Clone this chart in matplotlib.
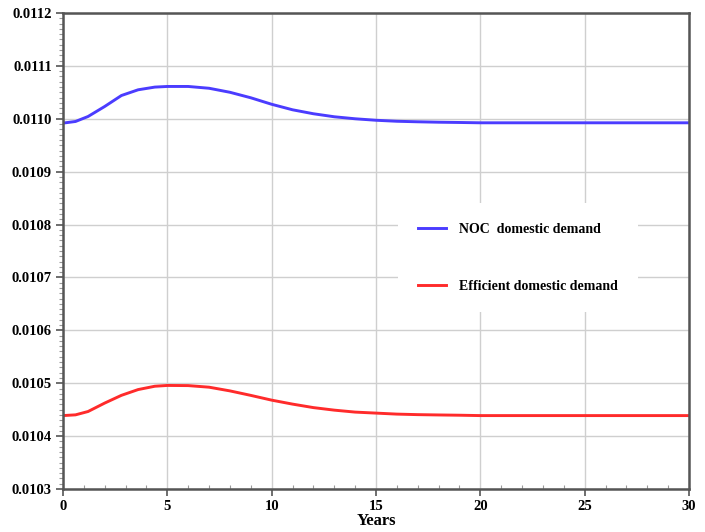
import matplotlib
matplotlib.use("Agg")
import matplotlib.pyplot as plt
from matplotlib.ticker import MultipleLocator, FormatStrFormatter

# values
years = [0, 0.6, 1.2, 2, 2.8, 3.6, 4.4, 5, 6, 7, 8, 9, 10, 11, 12, 13, 14,
         15, 16, 17, 18, 19, 20, 22, 25, 28, 30]
noc_demand = [0.0109918, 0.0109949, 0.0110043, 0.0110233, 0.0110440, 0.0110548,
              0.0110599, 0.0110611, 0.0110611, 0.0110577, 0.0110501, 0.0110397,
              0.0110274, 0.0110170, 0.0110095, 0.0110038, 0.0110000, 0.0109972,
              0.0109953, 0.0109943, 0.0109935, 0.0109930, 0.0109924, 0.0109924,
              0.0109924, 0.0109924, 0.0109924]
eff_demand = [0.0104388, 0.0104402, 0.0104465, 0.0104625, 0.0104771, 0.0104880,
              0.0104943, 0.0104958, 0.0104955, 0.0104925, 0.0104855, 0.0104770,
              0.0104680, 0.0104605, 0.0104539, 0.0104491, 0.0104454, 0.0104435,
              0.0104416, 0.0104406, 0.0104400, 0.0104395, 0.0104388, 0.0104388,
              0.0104388, 0.0104388, 0.0104388]

serif = ["Liberation Serif", "DejaVu Serif"]

fig = plt.figure(figsize=(7.05, 5.32), dpi=100)
ax = fig.add_axes([63 / 705, 1 - 489 / 532, 626 / 705, 476 / 532])

ax.plot(years, noc_demand, color="#4b3cff", lw=2.1, label="NOC  domestic demand")
ax.plot(years, eff_demand, color="#ff2b2b", lw=2.1, label="Efficient domestic demand")

ax.set_xlim(0, 30)
ax.set_ylim(0.0103, 0.0112)
ax.xaxis.set_major_locator(MultipleLocator(5))
ax.xaxis.set_minor_locator(MultipleLocator(1))
ax.yaxis.set_major_locator(MultipleLocator(0.0001))
ax.yaxis.set_minor_locator(MultipleLocator(0.00001))
ax.yaxis.set_major_formatter(FormatStrFormatter("%.4f"))

ax.grid(True, which="major", color="#cfcfcf", lw=1)
ax.set_axisbelow(True)
for s in ax.spines.values():
    s.set_color("#555555")
    s.set_linewidth(1.8)

ax.tick_params(axis="both", which="major", length=5, width=1.2, color="#555555",
               pad=3)
ax.tick_params(axis="y", which="minor", length=3, width=0.8, color="#999999")
ax.tick_params(axis="x", which="minor", direction="in", length=3, width=0.8,
               color="#999999")
for lab in ax.get_xticklabels() + ax.get_yticklabels():
    lab.set_fontfamily(serif)
    lab.set_fontweight("bold")
    lab.set_fontsize(10.5)

ax.set_xlabel("Years", fontfamily=serif, fontweight="bold", fontsize=12,
              labelpad=0)

leg = ax.legend(loc="center", bbox_to_anchor=(0.727, 0.486), frameon=True,
                facecolor="white", edgecolor="none", framealpha=1,
                labelspacing=3.15, handlelength=2.0, handletextpad=1.0,
                borderpad=1.4,
                prop={"family": serif, "weight": "bold", "size": 10})

fig.savefig("out.png", dpi=100)
